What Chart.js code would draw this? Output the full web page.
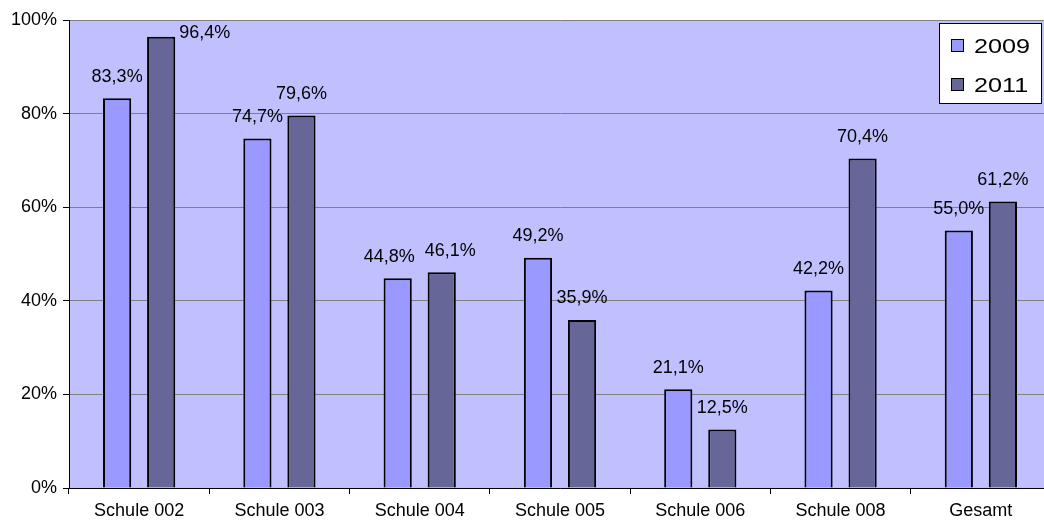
<!DOCTYPE html>
<html>
<head>
<meta charset="utf-8">
<script src="https://cdn.jsdelivr.net/npm/chart.js@4/dist/chart.umd.min.js"></script>
<style>
  html, body { margin: 0; padding: 0; background: #fff; overflow: hidden; }
  #wrap { width: 1052px; height: 523px; }
</style>
</head>
<body>
<div id="wrap"><canvas id="c" width="1052" height="523"></canvas></div>
<script>
// Schools and their shares for the two survey years (percent)
const categories = ['Schule 002', 'Schule 003', 'Schule 004', 'Schule 005', 'Schule 006', 'Schule 008', 'Gesamt'];
const values2009 = [83.3, 74.7, 44.8, 49.2, 21.1, 42.2, 55.0];
const values2011 = [96.4, 79.6, 46.1, 35.9, 12.5, 70.4, 61.2];
const seriesNames = ['2009', '2011'];
const yTicks = [0, 20, 40, 60, 80, 100];

const FONT = '"Liberation Sans", Arial, sans-serif';
const fmtPct = v => v.toFixed(1).replace('.', ',') + '%';

// Plot background
const plotBackground = {
  id: 'plotBackground',
  beforeDraw(chart) {
    const { ctx, chartArea: a } = chart;
    ctx.save();
    ctx.fillStyle = '#C0C0FF';
    ctx.fillRect(a.left, a.top, a.right - a.left, a.bottom - a.top);
    ctx.restore();
  }
};

// Value labels above each bar; overlapping neighbours are pushed apart,
// labels that would leave the plot at the top go beside the bar instead.
const valueLabels = {
  id: 'valueLabels',
  afterDatasetsDraw(chart) {
    const { ctx, chartArea: a } = chart;
    ctx.save();
    ctx.font = '18px ' + FONT;
    ctx.fillStyle = '#000';
    const rise = 16.5, capH = 13;
    const perCat = categories.map(() => []);
    chart.data.datasets.forEach((ds, di) => {
      const meta = chart.getDatasetMeta(di);
      meta.data.forEach((bar, i) => {
        const text = fmtPct(ds.data[i]);
        const w = ctx.measureText(text).width;
        const lbl = { text, w, x: bar.x, y: bar.y - rise, align: 'center' };
        if (lbl.y - capH < a.top) {
          lbl.x = bar.x + bar.width / 2 + 4;
          lbl.y = bar.y + 1;
          lbl.align = 'left';
        }
        perCat[i].push(lbl);
      });
    });
    perCat.forEach(list => {
      if (list.length === 2 && list[0].align === 'center' && list[1].align === 'center') {
        const [l, r] = list;
        const need = (l.w + r.w) / 2 + 10;
        const sep = r.x - l.x;
        if (Math.abs(l.y - r.y) < capH + 4 && sep < need) {
          const shift = (need - sep) / 2;
          l.x -= shift; r.x += shift;
        }
      }
      list.forEach(l => {
        ctx.textAlign = l.align;
        ctx.textBaseline = 'alphabetic';
        ctx.fillText(l.text, l.x, l.y);
      });
    });
    ctx.restore();
  }
};

// Boxed legend in the upper right corner
const boxLegend = {
  id: 'boxLegend',
  afterDraw(chart) {
    const { ctx } = chart;
    const bx = 939.5, by = 23.5, bw = 102, bh = 80;
    ctx.save();
    ctx.fillStyle = '#fff';
    ctx.fillRect(bx, by, bw, bh);
    ctx.strokeStyle = '#000';
    ctx.lineWidth = 1;
    ctx.strokeRect(bx, by, bw, bh);
    const rows = [39.5, 78.5];
    chart.data.datasets.forEach((ds, i) => {
      const sy = rows[i];
      ctx.fillStyle = ds.backgroundColor;
      ctx.fillRect(951.5, sy, 12, 12);
      ctx.strokeRect(951.5, sy, 12, 12);
      ctx.save();
      ctx.translate(974, sy + 13);
      ctx.scale(1.2, 1);
      ctx.font = '21px ' + FONT;
      ctx.fillStyle = '#000';
      ctx.textAlign = 'left';
      ctx.textBaseline = 'alphabetic';
      ctx.fillText(ds.label, 0, 0);
      ctx.restore();
    });
    ctx.restore();
  }
};

new Chart(document.getElementById('c'), {
  type: 'bar',
  data: {
    labels: categories,
    datasets: [
      { label: seriesNames[0], data: values2009, backgroundColor: '#9999FF', borderColor: '#000', borderWidth: 2 },
      { label: seriesNames[1], data: values2011, backgroundColor: '#666699', borderColor: '#000', borderWidth: 2 }
    ]
  },
  options: {
    responsive: false,
    animation: false,
    devicePixelRatio: 1,
    categoryPercentage: 0.628,
    barPercentage: 0.64,
    layout: { padding: { top: 20, right: 1, left: 0, bottom: 0 } },
    plugins: { legend: { display: false }, tooltip: { enabled: false } },
    scales: {
      x: {
        grid: { offset: true, drawOnChartArea: false, drawTicks: true, tickLength: 6, color: '#000' },
        border: { color: '#000', width: 1 },
        ticks: { color: '#000', font: { family: FONT, size: 18 }, padding: 6, maxRotation: 0, autoSkip: false },
        afterFit(s) { s.height = 35; }
      },
      y: {
        min: 0, max: 100,
        afterBuildTicks(s) { s.ticks = yTicks.map(v => ({ value: v })); },
        grid: { color: '#808080', tickColor: '#000', tickLength: 6, lineWidth: 1 },
        border: { color: '#000', width: 1 },
        ticks: { color: '#000', font: { family: FONT, size: 18 }, padding: 6, callback: v => v + '%' },
        afterFit(s) { s.width = 69; }
      }
    }
  },
  plugins: [plotBackground, valueLabels, boxLegend]
});
</script>
</body>
</html>
